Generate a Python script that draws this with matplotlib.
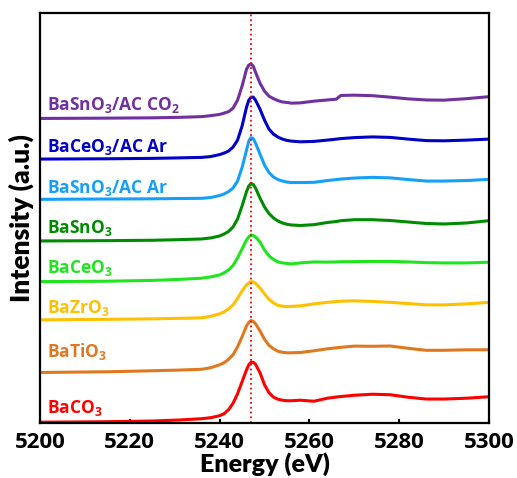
import numpy as np
import matplotlib
matplotlib.use("Agg")
import matplotlib.pyplot as plt

plt.rcParams['font.family'] = ['Open Sans', 'DejaVu Sans']
plt.rcParams['font.weight'] = 'bold'
plt.rcParams['mathtext.default'] = 'regular'

# energy grid (eV)
energy = [5200, 5215, 5225, 5231, 5236, 5238, 5240, 5241, 5242, 5243, 5244, 5245,
          5246, 5246.5, 5247, 5247.5, 5248, 5249, 5250, 5251, 5252, 5253, 5254,
          5255, 5256, 5258, 5261, 5264, 5266, 5267, 5270, 5274, 5278, 5282, 5286,
          5290, 5295, 5300]

# stacked normalised intensities (a.u.), bottom to top
baco3 = [0.005, 0.01, 0.017, 0.027, 0.04, 0.05, 0.07, 0.09, 0.13, 0.195, 0.29, 0.41,
         0.53, 0.58, 0.605, 0.605, 0.585, 0.50, 0.38, 0.30, 0.255, 0.235, 0.225,
         0.22, 0.22, 0.225, 0.215, 0.245, 0.257, 0.262, 0.275, 0.285, 0.28, 0.255,
         0.237, 0.237, 0.245, 0.26]
batio3 = [0.503, 0.51, 0.52, 0.527, 0.535, 0.55, 0.58, 0.60, 0.635, 0.68, 0.76, 0.86,
          0.97, 1.005, 1.023, 1.015, 0.99, 0.92, 0.835, 0.775, 0.74, 0.715, 0.705,
          0.70, 0.70, 0.703, 0.72, 0.74, 0.75, 0.755, 0.767, 0.765, 0.768, 0.745,
          0.725, 0.725, 0.73, 0.73]
bazro3 = [1.03, 1.035, 1.04, 1.045, 1.05, 1.065, 1.09, 1.11, 1.14, 1.18, 1.245, 1.32,
          1.38, 1.40, 1.413, 1.41, 1.395, 1.35, 1.29, 1.235, 1.20, 1.175, 1.167,
          1.163, 1.165, 1.17, 1.19, 1.205, 1.213, 1.217, 1.22, 1.215, 1.205, 1.193,
          1.18, 1.18, 1.19, 1.205]
baceo3 = [1.413, 1.417, 1.425, 1.435, 1.447, 1.46, 1.48, 1.50, 1.53, 1.575, 1.65, 1.74,
          1.83, 1.86, 1.88, 1.875, 1.86, 1.81, 1.73, 1.67, 1.635, 1.61, 1.60,
          1.595, 1.59, 1.60, 1.61, 1.608, 1.61, 1.612, 1.613, 1.615, 1.615, 1.61,
          1.603, 1.60, 1.60, 1.607]
basno3 = [1.82, 1.823, 1.827, 1.833, 1.84, 1.85, 1.87, 1.89, 1.915, 1.96, 2.04, 2.17,
          2.315, 2.37, 2.395, 2.385, 2.35, 2.25, 2.16, 2.095, 2.05, 2.02, 2.00,
          1.987, 1.98, 1.975, 1.983, 2.005, 2.015, 2.023, 2.033, 2.033, 2.025, 2.01,
          1.995, 1.99, 2.00, 2.023]
basno3_ac_ar = [2.237, 2.24, 2.242, 2.245, 2.247, 2.255, 2.275, 2.29, 2.315, 2.35, 2.42, 2.555,
                2.73, 2.82, 2.855, 2.845, 2.80, 2.69, 2.58, 2.505, 2.46, 2.435, 2.42,
                2.41, 2.405, 2.405, 2.407, 2.425, 2.435, 2.44, 2.45, 2.457, 2.452, 2.435,
                2.42, 2.42, 2.425, 2.437]
baceo3_ac_ar = [2.64, 2.643, 2.647, 2.652, 2.657, 2.665, 2.685, 2.70, 2.72, 2.76, 2.83, 2.97,
                3.16, 3.23, 3.26, 3.26, 3.23, 3.14, 3.03, 2.94, 2.89, 2.86, 2.84,
                2.827, 2.82, 2.813, 2.817, 2.83, 2.84, 2.845, 2.855, 2.862, 2.857, 2.84,
                2.825, 2.823, 2.83, 2.84]
basno3_ac_co2 = [3.047, 3.05, 3.053, 3.058, 3.065, 3.075, 3.087, 3.10, 3.115, 3.15, 3.23, 3.37,
                 3.54, 3.58, 3.595, 3.57, 3.51, 3.40, 3.32, 3.27, 3.245, 3.225, 3.212,
                 3.207, 3.20, 3.203, 3.22, 3.232, 3.24, 3.277, 3.28, 3.275, 3.26, 3.243,
                 3.232, 3.23, 3.245, 3.265]

labels = ['BaCO$_3$', 'BaTiO$_3$', 'BaZrO$_3$', 'BaCeO$_3$', 'BaSnO$_3$',
          'BaSnO$_3$/AC Ar', 'BaCeO$_3$/AC Ar', 'BaSnO$_3$/AC CO$_2$']
series = [baco3, batio3, bazro3, baceo3, basno3, basno3_ac_ar, baceo3_ac_ar, basno3_ac_co2]
colors = ['#FF0000', '#E07820', '#FFC000', '#1EE61E', '#008C00',
          '#14A0FA', '#0000C8', '#7030A0']
label_y = [0.10, 0.655, 1.097, 1.503, 1.90, 2.303, 2.713, 3.13]

edge = 5247

fig = plt.figure(figsize=(5.17, 4.78), dpi=100)
ax = fig.add_axes([0.0774, 0.1157, 0.8684, 0.8565])

for y, c, lab, ly in zip(series, colors, labels, label_y):
    ax.plot(energy, y, color=c, lw=2.2, solid_capstyle='round', solid_joinstyle='round')
    ax.text(5201.5, ly, lab, color=c, fontsize=12.5, fontweight='bold', va='baseline')

ax.axvline(edge, color='red', ls=':', lw=1.3)

ax.set_xlim(5200, 5300)
ax.set_ylim(0, 4.1)
ax.set_xticks([5200, 5220, 5240, 5260, 5280, 5300])
ax.set_yticks([])
ax.tick_params(axis='x', direction='in', length=3, width=1.5, pad=7, labelsize=16)
for s in ax.spines.values():
    s.set_linewidth(1.6)

ax.set_xlabel('Energy (eV)', fontsize=18, fontweight='heavy', family=['Lato', 'DejaVu Sans'],
              labelpad=-1)
ax.set_ylabel('Intensity (a.u.)', fontsize=19, fontweight='heavy', family=['Lato', 'DejaVu Sans'],
              labelpad=4)

fig.savefig('out.png', dpi=100)
